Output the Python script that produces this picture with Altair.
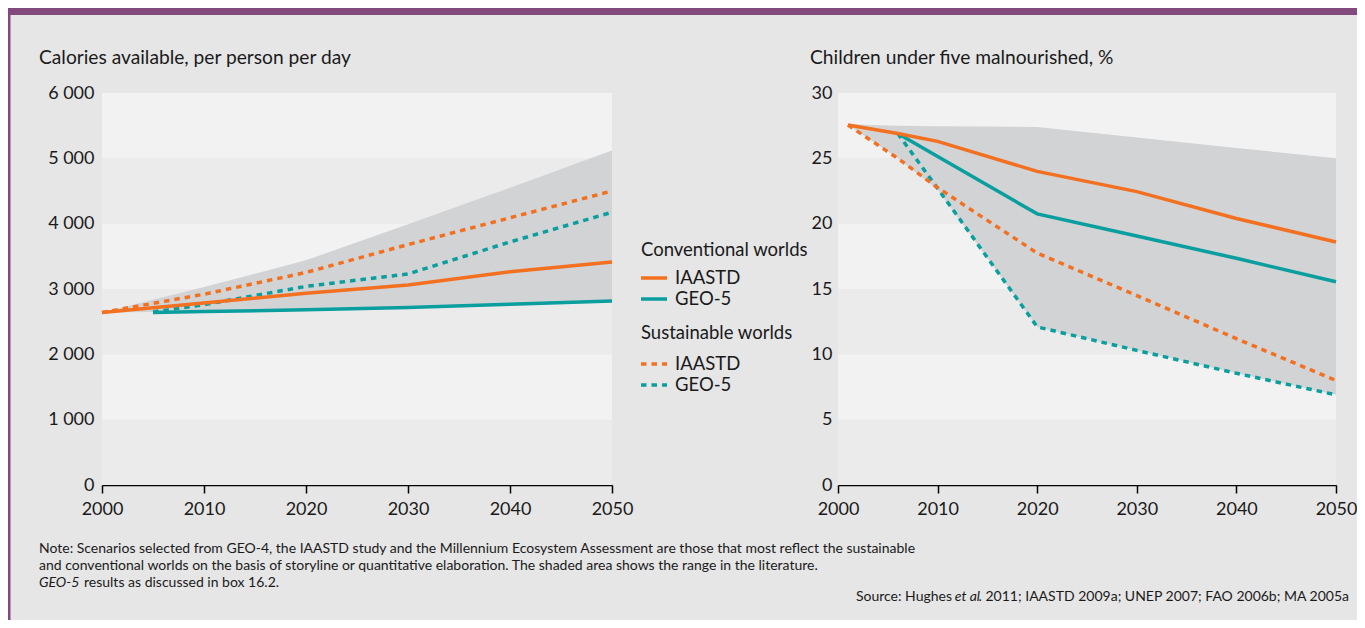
import altair as alt
import pandas as pd

# ---------------- data ----------------
year_ticks = [2000, 2010, 2020, 2030, 2040, 2050]
cal_ticks = [0, 1000, 2000, 3000, 4000, 5000, 6000]
mal_ticks = [0, 5, 10, 15, 20, 25, 30]

# Calories available, per person per day
cal_years = [2000, 2010, 2020, 2030, 2040, 2050]
cal_conv_iaastd = [2640, 2785, 2934, 3060, 3263, 3414]
cal_sust_iaastd = [2640, 2920, 3253, 3680, 4090, 4500]
cal_geo_years = [2005, 2010, 2020, 2030, 2040, 2050]
cal_conv_geo = [2640, 2655, 2682, 2717, 2768, 2818]
cal_sust_geo = [2650, 2760, 3040, 3230, 3720, 4175]
cal_range_low = [2640, 2655, 2682, 2717, 2768, 2818]
cal_range_high = [2640, 3030, 3440, 3990, 4550, 5120]

# Children under five malnourished, %
mal_iaastd_years = [2001, 2006, 2010, 2020, 2030, 2040, 2050]
mal_conv_iaastd = [27.55, 26.9, 26.3, 24.0, 22.45, 20.4, 18.6]
mal_sust_iaastd = [27.55, 25.0, 22.75, 17.75, 14.5, 11.2, 8.0]
mal_geo_conv_years = [2006, 2020, 2030, 2040, 2050]
mal_conv_geo = [26.9, 20.75, 19.05, 17.35, 15.55]
mal_geo_sust_years = [2006, 2010, 2020, 2030, 2040, 2050]
mal_sust_geo = [26.9, 22.7, 12.1, 10.3, 8.55, 6.9]
mal_range_years = [2001, 2006, 2010, 2020, 2030, 2040, 2050]
mal_range_low = [27.55, 25.0, 22.6, 12.1, 10.3, 8.55, 6.9]
mal_range_high = [27.6, 27.5, 27.45, 27.4, 26.6, 25.8, 25.0]

# ---------------- style ----------------
W, H = 1349, 612
FONT = "Lato"
TXT = "#1a1a1a"
ORANGE = "#f37021"
TEAL = "#0a9e9e"
SHADE = "#d2d3d5"
BAND_LIGHT = "#f2f2f2"
BAND_DARK = "#ebebeb"
BG = "#e6e6e6"
PURPLE = "#824a7c"
DASH = [5.5, 5]
LW = 3.5

LX = [94, 604]
RX = [830, 1328]
YR = [477, 85]


def enc_x(field, xr):
    return alt.X(
        field,
        type="quantitative",
        scale=alt.Scale(domain=[year_ticks[0], year_ticks[-1]], range=xr, nice=False, zero=False),
        axis=alt.Axis(values=year_ticks, format="d", orient="bottom", offset=-(H - YR[0]),
                      tickSize=8, labelPadding=7, title=None, grid=False,
                      labelFlush=False, labelOverlap=False),
    )


def enc_y(field, ticks, offset, pad, fmt):
    return alt.Y(
        field,
        type="quantitative",
        scale=alt.Scale(domain=[ticks[0], ticks[-1]], range=YR, nice=False, zero=False),
        axis=alt.Axis(values=ticks, orient="left", offset=offset, domain=False, ticks=False,
                      labelPadding=pad, title=None, grid=False, labelExpr=fmt),
    )


def panel(ticks, xr, yoff, ypad, fmt, rng, lines):
    bands = pd.DataFrame({
        "lo": ticks[:-1], "hi": ticks[1:],
        "x0": year_ticks[0], "x1": year_ticks[-1],
        "shade": ["dark" if i % 2 == 0 else "light" for i in range(len(ticks) - 1)],
    })
    band_layer = alt.Chart(bands).mark_rect().encode(
        x=enc_x("x0", xr), x2="x1",
        y=enc_y("lo", ticks, yoff, ypad, fmt), y2="hi",
        color=alt.Color("shade:N", scale=alt.Scale(domain=["dark", "light"],
                                                    range=[BAND_DARK, BAND_LIGHT]), legend=None),
    )
    ry, rlo, rhi = rng
    area = alt.Chart(pd.DataFrame({"year": ry, "lo": rlo, "hi": rhi})).mark_area(color=SHADE).encode(
        x=enc_x("year", xr), y=enc_y("lo", ticks, yoff, ypad, fmt), y2="hi")
    layers = [band_layer, area]
    for yrs, vals, col, dashed in lines:
        kw = dict(color=col, strokeWidth=LW, strokeCap="butt", strokeJoin="miter")
        if dashed:
            kw["strokeDash"] = DASH
        layers.append(
            alt.Chart(pd.DataFrame({"year": yrs, "v": vals})).mark_line(**kw).encode(
                x=enc_x("year", xr), y=enc_y("v", ticks, yoff, ypad, fmt))
        )
    return alt.layer(*layers)


cal_fmt = "replace(format(datum.value, ','), ',', ' ')"
mal_fmt = "format(datum.value, 'd')"

left = panel(cal_ticks, LX, -LX[0], 8, cal_fmt,
             (cal_years, cal_range_low, cal_range_high),
             [(cal_geo_years, cal_conv_geo, TEAL, False),
              (cal_geo_years, cal_sust_geo, TEAL, True),
              (cal_years, cal_sust_iaastd, ORANGE, True),
              (cal_years, cal_conv_iaastd, ORANGE, False)])

right = panel(mal_ticks, RX, -RX[0], 6, mal_fmt,
              (mal_range_years, mal_range_low, mal_range_high),
              [(mal_geo_sust_years, mal_sust_geo, TEAL, True),
               (mal_iaastd_years, mal_sust_iaastd, ORANGE, True),
               (mal_geo_conv_years, mal_conv_geo, TEAL, False),
               (mal_iaastd_years, mal_conv_iaastd, ORANGE, False)])

one = pd.DataFrame({"a": [0]})


def text(s, x, y, size=18.5, align="left", style="normal"):
    return alt.Chart(one).mark_text(
        text=s, font=FONT, fontSize=size, color=TXT, align=align, baseline="middle",
        fontStyle=style,
    ).encode(x=alt.value(x), y=alt.value(y))


def rule(x1, x2, y, col, dashed):
    kw = dict(color=col, strokeWidth=LW, strokeCap="butt")
    if dashed:
        kw["strokeDash"] = DASH
    return alt.Chart(one).mark_rule(**kw).encode(x=alt.value(x1), x2=alt.value(x2), y=alt.value(y))


decor = [
    alt.Chart(one).mark_rect(color=PURPLE).encode(
        x=alt.value(0), x2=alt.value(W), y=alt.value(0), y2=alt.value(7)),
    alt.Chart(one).mark_rect(color=PURPLE).encode(
        x=alt.value(0), x2=alt.value(2.5), y=alt.value(0), y2=alt.value(H)),
]

legend = [
    text("Conventional worlds", 633, 242),
    rule(633, 659, 270, ORANGE, False), text("IAASTD", 667, 270),
    rule(633, 659, 291, TEAL, False), text("GEO-5", 667, 291),
    text("Sustainable worlds", 633, 325),
    rule(633, 659, 356, ORANGE, True), text("IAASTD", 667, 356),
    rule(633, 659, 377, TEAL, True), text("GEO-5", 667, 377),
]

NS = 14
TS = 19.2
texts = [
    text("Calories available, per person per day", 31, 50, TS),
    text("Children under five malnourished, %", 802, 50, TS),
    text("Note: Scenarios selected from GEO-4, the IAASTD study and the Millennium Ecosystem "
         "Assessment are those that most reflect the sustainable", 31, 541, NS),
    text("and conventional worlds on the basis of storyline or quantitative elaboration. "
         "The shaded area shows the range in the literature.", 31, 558, NS),
    text("GEO-5", 31, 575, NS, style="italic"),
    text("results as discussed in box 16.2.", 76, 575, NS),
    text(". 2011; IAASTD 2009a; UNEP 2007; FAO 2006b; MA 2005a", 1341, 589, NS, align="right"),
    text("et al", 972, 589, NS, align="right", style="italic"),
    text("Source: Hughes", 944, 589, NS, align="right"),
]

chart = alt.layer(*decor, left, right, *legend, *texts).resolve_scale(
    x="independent", y="independent"
).properties(
    width=W, height=H, padding=0, background=BG
).configure_view(stroke=None).configure_axis(
    labelFont=FONT, labelFontSize=18, labelColor=TXT,
    domainColor="#000000", tickColor="#000000", domainWidth=1.5, tickWidth=1.5,
)

chart.save("out.html", embed_options={"renderer": "svg", "actions": False})
